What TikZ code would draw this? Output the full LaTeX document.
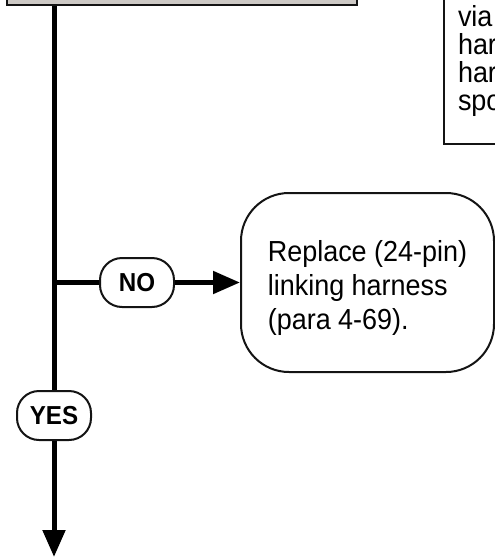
\documentclass[tikz,border=0pt]{standalone}
\usepackage{fontspec}
\setmainfont[FakeStretch=0.93]{Liberation Sans}
\usetikzlibrary{arrows.meta}
\definecolor{boxgray}{RGB}{205,201,197}
\definecolor{edge}{RGB}{20,20,20}
\tikzset{
  flow/.style={line width=5pt, draw=black},
  flowarrow/.style={flow, -{Triangle[length=27pt,width=22pt]}},
  graybox/.style={draw=edge, line width=2.5pt, fill=boxgray, minimum width=350pt, minimum height=60pt, inner sep=0pt},
  notebox/.style={draw=edge, line width=2pt, fill=white, align=left, text width=100pt, inner xsep=14pt, inner ysep=27pt, font=\fontsize{29}{28}\selectfont},
  actionbox/.style={draw=edge, line width=2pt, fill=white, rounded corners=48pt, minimum width=253pt, minimum height=179pt, inner sep=0pt, align=left, font=\fontsize{29}{34}\selectfont},
  answer/.style={draw=edge, line width=2pt, fill=white, rounded corners=22pt, minimum width=74pt, minimum height=49pt, inner sep=0pt, font=\bfseries\fontsize{26}{26}\selectfont},
}
\begin{document}
\begin{tikzpicture}[x=1pt,y=-1pt]
\useasboundingbox (0,0) rectangle (495,557);
\clip (0,0) rectangle (495,557);
\node[graybox] (top) at (182,-25) {};
\node[notebox, anchor=south west] (note) at (443,145) {via\\har\\har\\spo};
\node[actionbox] (rep) at (367.5,282.5) {\rule{0pt}{32pt}Replace (24-pin)\\linking harness\\(para 4-69).};
\node[answer] (no) at (137,282.5) {NO};
\node[answer] (yes) at (54,415.5) {YES};
\coordinate (endpt) at (54,557);
\draw[flow] (yes |- top.south) -- (yes.north);
\draw[flow] (yes |- no) -- (no.west);
\draw[flowarrow] (no.east) -- (no.east -| rep.west);
\draw[flowarrow] (yes.south) -- (endpt);
\end{tikzpicture}
\end{document}
